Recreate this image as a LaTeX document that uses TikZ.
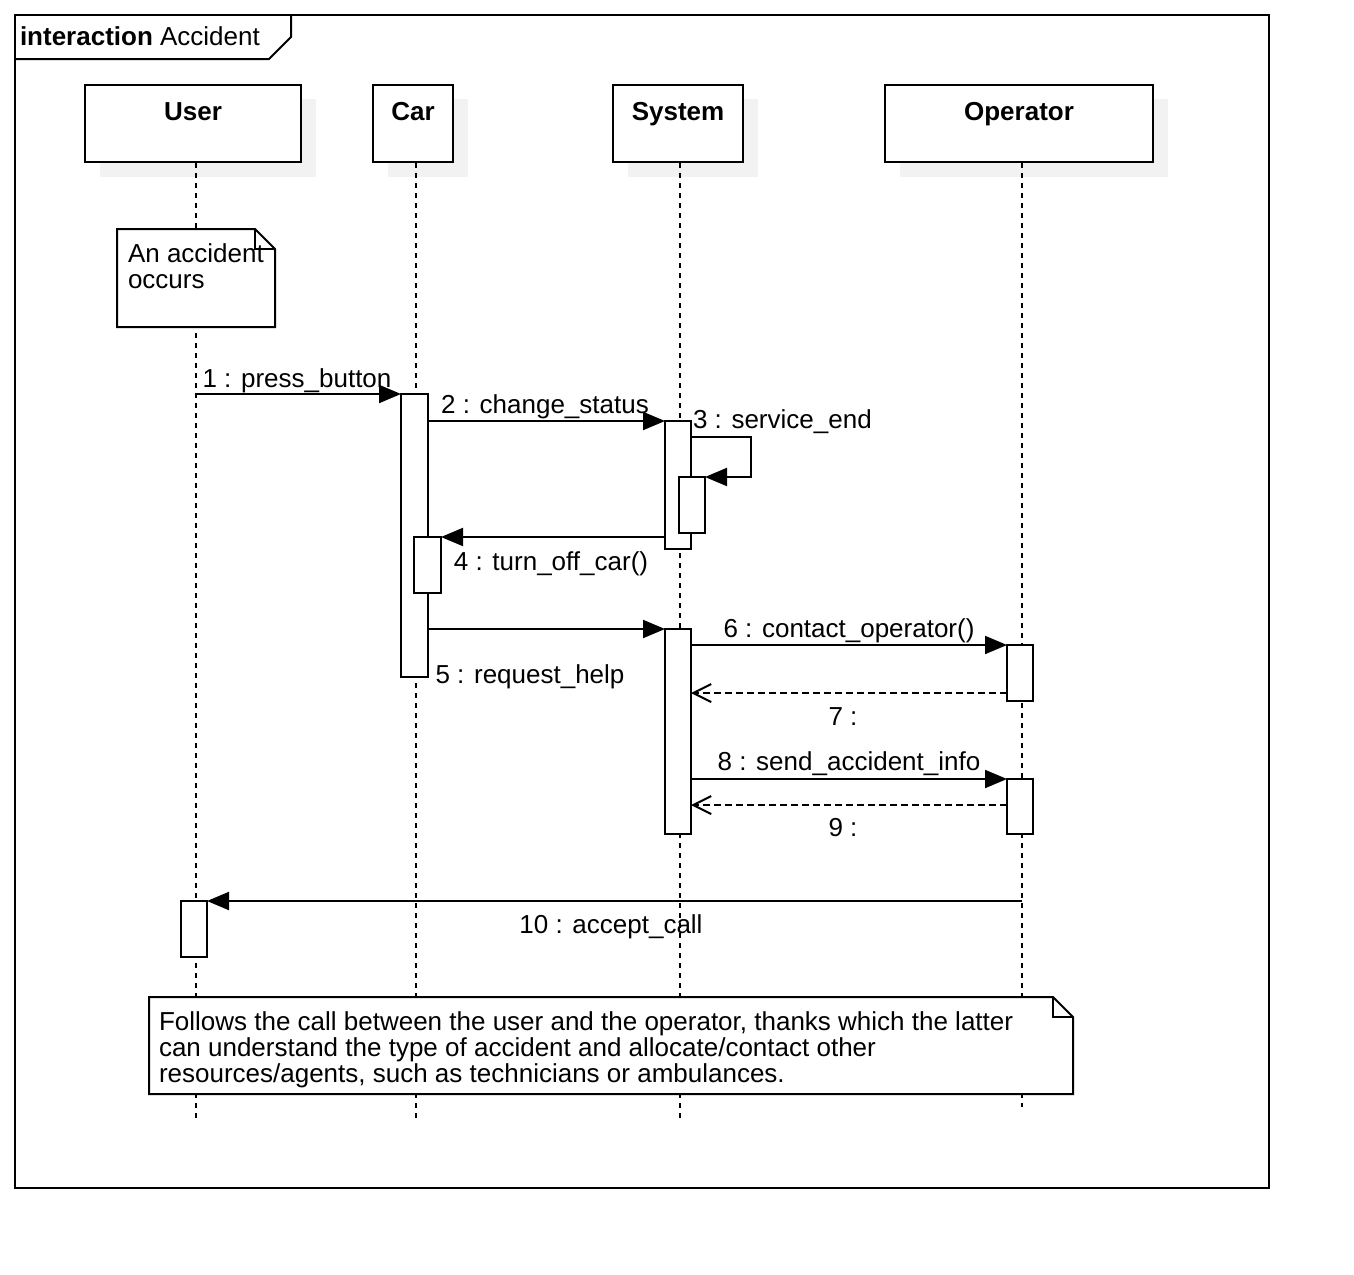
\documentclass[tikz,border=0pt]{standalone}
\usepackage{fontspec}
\setmainfont{Liberation Sans}
\usetikzlibrary{arrows.meta}
\begin{document}
\begin{tikzpicture}[x=1pt,y=-1pt, line width=2pt,
  every node/.style={font=\fontsize{26pt}{26pt}\selectfont, inner sep=0pt, outer sep=0pt},
  lbl/.style={anchor=base},
  lbw/.style={anchor=base west},
  actorbox/.style={draw, fill=white, anchor=north west},
  shadowfill/.style={fill=black!5, draw=none},
  lifeline/.style={dash pattern=on 5pt off 5pt},
  actbox/.style={draw, fill=white, anchor=north west, minimum width=26pt},
  msg/.style={-{Triangle[length=22pt,width=18pt]}},
  ret/.style={dash pattern=on 7pt off 4pt, -{Straight Barb[length=18pt,width=18pt]}},
  notefill/.style={draw, fill=white, line join=miter}
]
\useasboundingbox (0,0) rectangle (1354,1274);

% frame
\draw (15,15) rectangle (1269,1188);
\draw (15,59) -- (269,59) -- (291,37) -- (291,15);
\node[lbw] (title) at (20,45) {\textbf{interaction} Accident};

% shadows
\fill[shadowfill] (100,99) rectangle (316,177);
\fill[shadowfill] (388,99) rectangle (468,177);
\fill[shadowfill] (628,99) rectangle (758,177);
\fill[shadowfill] (900,99) rectangle (1168,177);

% lifelines
\coordinate (uT) at (196,163); \coordinate (uB) at (196,1118);
\coordinate (cT) at (416,163); \coordinate (cB) at (416,1118);
\coordinate (sT) at (680,163); \coordinate (sB) at (680,1118);
\coordinate (oT) at (1022,163); \coordinate (oB) at (1022,1107);
\draw[lifeline] (uT) -- (uB);
\draw[lifeline] (cT) -- (cB);
\draw[lifeline] (sT) -- (sB);
\draw[lifeline] (oT) -- (oB);

% participants
\node[actorbox, minimum width=216pt, minimum height=77pt] (user) at (85,85) {};
\node[actorbox, minimum width=80pt, minimum height=77pt] (car) at (373,85) {};
\node[actorbox, minimum width=130pt, minimum height=77pt] (system) at (613,85) {};
\node[actorbox, minimum width=268pt, minimum height=77pt] (operator) at (885,85) {};
\node[lbl] (userT) at (193,120) {\textbf{User}};
\node[lbl] (carT) at (413,120) {\textbf{Car}};
\node[lbl] (systemT) at (678,120) {\textbf{System}};
\node[lbl] (operatorT) at (1019,120) {\textbf{Operator}};

% note 1
\draw[notefill] (117,229) -- (255,229) -- (275,249) -- (275,327) -- (117,327) -- cycle;
\draw (255,229) -- (255,249) -- (275,249);
\node[lbw] (n1a) at (128,262) {An accident};
\node[lbw] (n1b) at (128,288) {occurs};

% activations
\node[actbox, minimum width=27pt, minimum height=283pt] (car1) at (401,394) {};
\node[actbox, minimum height=128pt] (sys1) at (665,421) {};
\node[actbox, minimum height=56pt] (sys2) at (679,477) {};
\node[actbox, minimum width=27pt, minimum height=56pt] (car2) at (414,537) {};
\node[actbox, minimum height=205pt] (sys3) at (665,629) {};
\node[actbox, minimum height=56pt] (op1) at (1007,645) {};
\node[actbox, minimum height=55pt] (op2) at (1007,779) {};
\node[actbox, minimum height=56pt] (usr1) at (181,901) {};

% messages
\coordinate (m1s) at (196,394);
\draw[msg] (m1s) -- (car1.north west);
\node[lbl] (l1) at (297,387) {1 : press\_button};

\draw[msg] (car1.east |- sys1.north) -- (sys1.north west);
\node[lbl] (l2) at (545,413) {2 : change\_status};

\coordinate (m3a) at (691,437);
\coordinate (m3b) at (751,437);
\coordinate (m3c) at (751,477);
\draw[msg] (m3a) -- (m3b) -- (m3c) -- (sys2.north east);
\node[lbw] (l3) at (693,428) {3 : service\_end};

\draw[msg] (sys1.west |- car2.north) -- (car2.north east);
\node[lbl] (l4) at (551,570) {4 : turn\_off\_car()};

\draw[msg] (car1.east |- sys3.north) -- (sys3.north west);
\node[lbl] (l5) at (530,683) {5 : request\_help};

\draw[msg] (sys3.east |- op1.north) -- (op1.north west);
\node[lbl] (l6) at (849,637) {6 : contact\_operator()};

\coordinate (m7) at (0,693);
\draw[ret] (op1.west |- m7) -- (sys3.east |- m7);
\node[lbl] (l7) at (843,725) {7 :};

\draw[msg] (sys3.east |- op2.north) -- (op2.north west);
\node[lbl] (l8) at (849,770) {8 : send\_accident\_info};

\coordinate (m9) at (0,805);
\draw[ret] (op2.west |- m9) -- (sys3.east |- m9);
\node[lbl] (l9) at (843,836) {9 :};

\coordinate (m10s) at (1022,901);
\draw[msg] (m10s) -- (usr1.north east);
\node[lbl] (l10) at (611,933) {10 : accept\_call};

% note 2
\draw[notefill] (149,997) -- (1053,997) -- (1073,1017) -- (1073,1094) -- (149,1094) -- cycle;
\draw (1053,997) -- (1053,1017) -- (1073,1017);
\node[lbw] (n2a) at (159,1030) {Follows the call between the user and the operator, thanks which the latter};
\node[lbw] (n2b) at (159,1056) {can understand the type of accident and allocate/contact other};
\node[lbw] (n2c) at (159,1082) {resources/agents, such as technicians or ambulances.};
\end{tikzpicture}
\end{document}
